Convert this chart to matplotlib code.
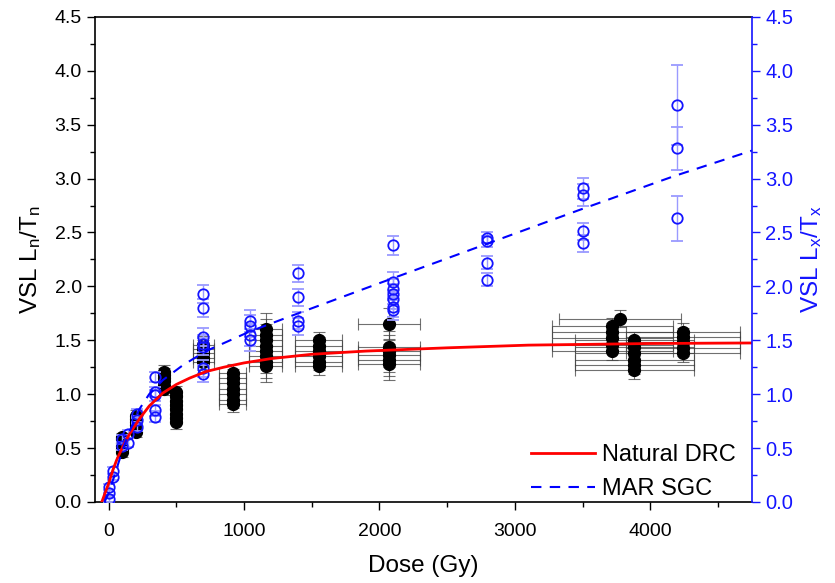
import numpy as np
import matplotlib
matplotlib.use("Agg")
from matplotlib import pyplot as plt
from matplotlib.ticker import MultipleLocator

plt.rcParams['font.family'] = ['Liberation Sans', 'DejaVu Sans']
plt.rcParams['mathtext.default'] = 'regular'

# natural Ln/Tn (black) - one entry per point
nat_dose = [100]*6 + [200]*6 + [410]*6 + [500]*8 + [700]*5 + [915]*7 + \
           [1160]*8 + [1550]*6 + [2070]*6 + [3720]*5 + [3775] + [3880]*6 + [4240]*5
nat_ratio = [0.46, 0.49, 0.52, 0.55, 0.58, 0.60,
             0.65, 0.68, 0.71, 0.74, 0.77, 0.80,
             1.05, 1.08, 1.12, 1.15, 1.18, 1.21,
             0.74, 0.78, 0.82, 0.86, 0.90, 0.94, 0.98, 1.02,
             1.30, 1.34, 1.38, 1.42, 1.46,
             0.91, 0.95, 1.00, 1.05, 1.10, 1.15, 1.20,
             1.26, 1.30, 1.35, 1.40, 1.45, 1.50, 1.55, 1.60,
             1.26, 1.30, 1.35, 1.40, 1.45, 1.50,
             1.65, 1.28, 1.32, 1.36, 1.40, 1.44,
             1.40, 1.46, 1.52, 1.58, 1.63, 1.70,
             1.22, 1.27, 1.32, 1.38, 1.44, 1.50,
             1.38, 1.43, 1.48, 1.53, 1.58]
nat_dose_err = [0]*6 + [0]*6 + [0]*6 + [0]*8 + [75]*5 + [100]*7 + \
               [120]*8 + [175]*6 + [230]*6 + [450]*5 + [450] + [440]*6 + [420]*5
nat_ratio_err = [0.04]*6 + [0.05]*6 + [0.06]*6 + [0.06]*8 + [0.08]*5 + [0.08]*7 + \
                [0.15]*8 + [0.08]*6 + [0.15]*6 + [0.08]*5 + [0.08] + [0.08]*6 + [0.08]*5

# MAR SGC regenerated Lx/Tx (blue)
sgc_dose = [0, 0, 0, 30, 30, 100, 100, 140, 140, 207, 207, 207,
            345, 345, 345, 345, 345,
            700, 700, 700, 700, 700, 700, 700,
            1047, 1047, 1047, 1047,
            1402, 1402, 1402, 1402,
            2100, 2100, 2100, 2100, 2100, 2100, 2100,
            2797, 2797, 2797, 2797,
            3502, 3502, 3502, 3502,
            4200, 4200, 4200]
sgc_ratio = [0.03, 0.08, 0.14, 0.23, 0.29, 0.52, 0.58, 0.55, 0.63, 0.70, 0.76, 0.82,
             0.79, 0.85, 0.99, 1.02, 1.16,
             1.19, 1.24, 1.44, 1.47, 1.53, 1.80, 1.93,
             1.50, 1.55, 1.63, 1.68,
             1.63, 1.68, 1.90, 2.12,
             1.78, 1.81, 1.88, 1.93, 1.98, 2.04, 2.38,
             2.06, 2.22, 2.42, 2.45,
             2.40, 2.51, 2.85, 2.91,
             2.63, 3.28, 3.68]
sgc_err = [0.03, 0.03, 0.03, 0.03, 0.03, 0.04, 0.04, 0.04, 0.04, 0.04, 0.04, 0.04,
           0.05, 0.05, 0.05, 0.05, 0.05,
           0.08, 0.08, 0.08, 0.08, 0.08, 0.08, 0.08,
           0.10, 0.10, 0.10, 0.10,
           0.08, 0.08, 0.08, 0.08,
           0.09, 0.09, 0.09, 0.09, 0.09, 0.09, 0.09,
           0.06, 0.06, 0.05, 0.05,
           0.08, 0.08, 0.10, 0.10,
           0.21, 0.20, 0.37]

# fitted curves
drc_dose = [-50, 0, 30, 60, 104, 150, 227, 300, 400, 500, 600, 720, 850, 1000,
            1200, 1500, 1900, 2500, 3100, 4000, 4750]
drc_ratio = [0.0, 0.17, 0.29, 0.39, 0.51, 0.62, 0.77, 0.89, 1.01, 1.09, 1.15, 1.21,
             1.25, 1.29, 1.33, 1.37, 1.40, 1.43, 1.455, 1.47, 1.475]
sgc_fit_dose = [-30, 0, 50, 100, 150, 227, 300, 400, 550, 720, 1040, 1336, 1700,
                2000, 2739, 3478, 4168, 4750]
sgc_fit_ratio = [0.0, 0.08, 0.27, 0.47, 0.64, 0.86, 1.00, 1.13, 1.27, 1.40, 1.58,
                 1.72, 1.89, 2.03, 2.37, 2.71, 3.02, 3.26]

blue = '#1414ff'

fig = plt.figure(figsize=(8.35, 5.83), dpi=100)
ax = fig.add_axes([0.1138, 0.139, 0.7868, 0.832])

ax.errorbar(nat_dose, nat_ratio, xerr=nat_dose_err, yerr=nat_ratio_err, fmt='none',
            ecolor='0.25', elinewidth=0.8, capsize=4, capthick=0.8, alpha=0.75, zorder=2)
ax.plot(nat_dose, nat_ratio, 'o', color='black', ms=8.5, zorder=3)
ax.errorbar(sgc_dose, sgc_ratio, yerr=sgc_err, fmt='o', mfc='none', mec=blue, ms=7.5,
            mew=1.3, ecolor='#9a9aff', elinewidth=1, capsize=4, capthick=1, zorder=4)
ax.plot(drc_dose, drc_ratio, '-', color='red', lw=2, label='Natural DRC', zorder=5)
ax.plot(sgc_fit_dose, sgc_fit_ratio, '--', color='blue', lw=1.5, dashes=(5, 4),
        label='MAR SGC', zorder=5)

ax.set_xlim(-100, 4750)
ax.set_ylim(0, 4.5)
ax.xaxis.set_major_locator(MultipleLocator(1000))
ax.xaxis.set_minor_locator(MultipleLocator(500))
ax.yaxis.set_major_locator(MultipleLocator(0.5))
ax.yaxis.set_minor_locator(MultipleLocator(0.25))
ax.tick_params(which='both', direction='out', labelsize=14, width=1)
ax.tick_params(which='major', length=6)
ax.tick_params(which='minor', length=3.5)
ax.tick_params(axis='x', pad=9)
ax.yaxis.set_major_formatter(matplotlib.ticker.FormatStrFormatter('%.1f'))
ax.spines['right'].set_visible(False)
for s in ['left', 'bottom', 'top']:
    ax.spines[s].set_linewidth(1.2)
ax.set_xlabel('Dose (Gy)', fontsize=17.5, labelpad=11)
ax.set_ylabel('VSL L$_n$/T$_n$', fontsize=17.5, labelpad=8)

ax2 = ax.twinx()
ax2.set_ylim(0, 4.5)
ax2.yaxis.set_major_locator(MultipleLocator(0.5))
ax2.yaxis.set_minor_locator(MultipleLocator(0.25))
ax2.yaxis.set_major_formatter(matplotlib.ticker.FormatStrFormatter('%.1f'))
ax2.tick_params(which='both', direction='out', labelsize=14.5, width=1,
                colors=blue)
ax2.tick_params(which='major', length=6)
ax2.tick_params(which='minor', length=3.5)
ax2.spines['right'].set_color(blue)
ax2.spines['right'].set_linewidth(1.2)
for s in ['left', 'top', 'bottom']:
    ax2.spines[s].set_visible(False)
ax2.set_ylabel('VSL L$_x$/T$_x$', fontsize=17.5, color=blue)

leg = ax.legend(loc='lower right', frameon=False, fontsize=17, handlelength=2.7,
                handletextpad=0.3, labelspacing=0.5, borderaxespad=0.0,
                bbox_to_anchor=(0.99, -0.015))

fig.savefig('out.png', dpi=100)
